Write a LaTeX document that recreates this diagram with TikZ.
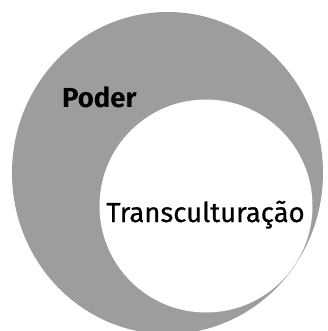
\documentclass[tikz,border=0pt]{standalone}
\usepackage{fontspec}
\setmainfont{Fira Sans}
\definecolor{ringgray}{RGB}{157,157,157}
\begin{document}
\begin{tikzpicture}[x=1pt,y=-1pt,
  outerdisc/.style={fill=ringgray,draw=none},
  innerdisc/.style={fill=white,draw=none},
  lbl/.style={inner sep=0pt,anchor=base west,text=black}]
\useasboundingbox (0,0) rectangle (327,331);
\fill[white] (0,0) rectangle (327,331);
\path[outerdisc] (167.5,173) ellipse [x radius=155.5, y radius=161];
\path[innerdisc] (206,206) circle [radius=106.5];
\node[lbl,font=\fontsize{27.5}{32}\selectfont\bfseries] (poder) at (62,108) {Poder};
\node[lbl,font=\fontsize{27.5}{32}\selectfont\addfontfeature{FakeBold=0.6},anchor=base] (trans) at (205.5,222) {Transculturação};
\end{tikzpicture}
\end{document}
